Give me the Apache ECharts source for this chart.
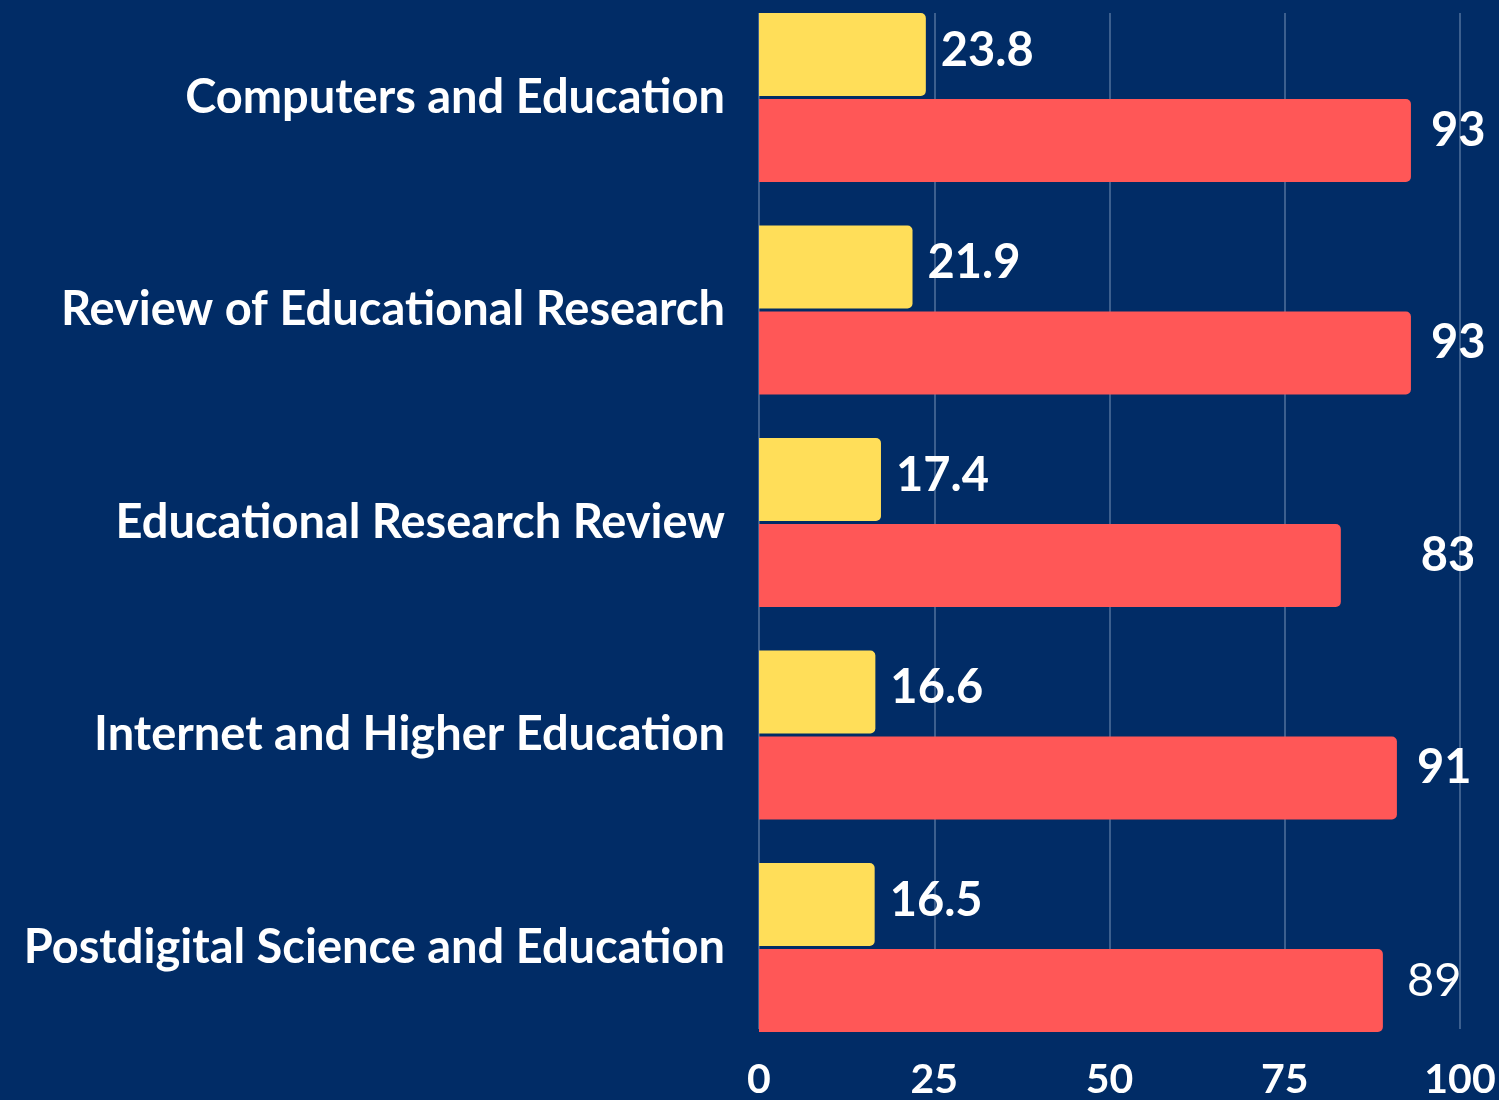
<!DOCTYPE html>
<html>
<head>
<meta charset="utf-8">
<script src="https://cdn.jsdelivr.net/npm/echarts@6/dist/echarts.min.js"></script>
<style>
html,body{margin:0;padding:0;background:#012C66;overflow:hidden;}
#chart{width:1499px;height:1130px;margin-top:-30px;}
</style>
</head>
<body>
<div id="chart"></div>
<script>
const categories = [
  "Computers and Education",
  "Review of Educational Research",
  "Educational Research Review",
  "Internet and Higher Education",
  "Postdigital Science and Education"
];
const yellowValues = [23.8, 21.9, 17.4, 16.6, 16.5];
const redValues = [93, 93, 83, 91, 89];
const xTicks = [0, 25, 50, 75, 100];

const FONT = "Lato";
const chart = echarts.init(document.getElementById('chart'));

const labelBase = {
  show: true, position: 'right', color: '#ffffff',
  fontFamily: FONT, fontWeight: 'bold', fontSize: 47
};

const redData = redValues.map((v, i) => {
  const item = { value: v };
  if (i === 2) item.label = { offset: [60, -10] };
  if (i === 4) item.label = { fontWeight: 'normal', offset: [4, -10] };
  return item;
});

const option = {
  backgroundColor: '#012C66',
  animation: false,
  grid: [
    { left: 759, width: 701, top: 21.25, height: 1062.5, containLabel: false },
    { left: 759, width: 701, top: 43, height: 1018, containLabel: false }
  ],
  xAxis: [
    { gridIndex: 0, type: 'value', min: 0, max: 100, interval: 25, show: false },
    {
      gridIndex: 1, type: 'value', min: 0, max: 100, interval: 25,
      axisLine: { show: false }, axisTick: { show: false },
      splitLine: { show: true, lineStyle: { color: 'rgba(180,195,225,0.45)', width: 1.5 } },
      axisLabel: {
        color: '#ffffff', fontFamily: FONT, fontWeight: 'bold', fontSize: 41, margin: 30,
        formatter: v => xTicks.includes(v) ? String(v) : ''
      }
    }
  ],
  yAxis: [
    {
      gridIndex: 0, type: 'category', data: categories, inverse: true,
      axisLine: { show: false }, axisTick: { show: false }, splitLine: { show: false },
      axisLabel: { color: '#ffffff', fontFamily: FONT, fontWeight: 'bold', fontSize: 47, margin: 34 }
    },
    { gridIndex: 1, type: 'value', show: false }
  ],
  series: [
    {
      type: 'bar', xAxisIndex: 0, yAxisIndex: 0, data: yellowValues,
      barWidth: 83, barGap: '3.6%',
      itemStyle: { color: '#FFDE59', borderRadius: [0, 5, 5, 0] },
      label: Object.assign({}, labelBase, { distance: 15, offset: [0, -4] })
    },
    {
      type: 'bar', xAxisIndex: 0, yAxisIndex: 0, data: redData,
      barWidth: 83, barGap: '3.6%',
      itemStyle: { color: '#FF5757', borderRadius: [0, 5, 5, 0] },
      label: Object.assign({}, labelBase, { distance: 20, offset: [0, -10] })
    }
  ]
};
chart.setOption(option);
</script>
</body>
</html>
